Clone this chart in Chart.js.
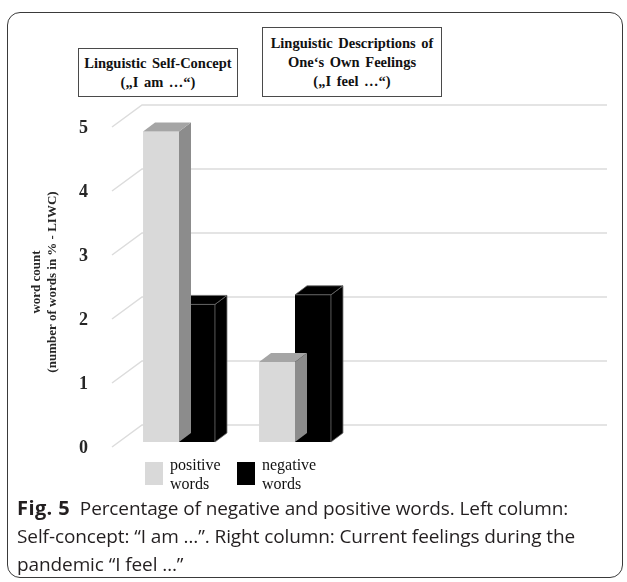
<!DOCTYPE html>
<html>
<head>
<meta charset="utf-8">
<script src="https://cdn.jsdelivr.net/npm/chart.js@4.4.1/dist/chart.umd.min.js"></script>
<style>
	body { margin: 0; background: #fff; }
	#wrap { position: relative; width: 627px; height: 582px; overflow: hidden; }
	#chart { position: absolute; left: 0; top: 0; }
	#card { position: absolute; left: 7px; top: 12px; width: 614px; height: 564px; border: 1.3px solid #3a3a3a; border-radius: 13px; pointer-events: none; }
	.box { position: absolute; box-sizing: border-box; border: 1.5px solid #4a4a4a; background: #fff; display: flex; flex-direction: column; justify-content: center;
		font: bold 14.5px "Liberation Serif", serif; line-height: 19px; text-align: center; color: #111; word-spacing: 2px; }
	#legend { position: absolute; left: 145px; top: 455px; display: flex; }
	.item { display: flex; width: 92px; font: 16px "Liberation Serif", serif; line-height: 19px; color: #111; }
	.sw { width: 18px; height: 23px; margin: 7px 7px 0 0; }
	#caption { position: absolute; left: 17px; top: 494px; font: 19px "Open Sans", sans-serif; line-height: 28px; color: #231f20; white-space: nowrap; letter-spacing: -0.1px; }
	#caption b { font-size: 20px; letter-spacing: 0.4px; }
</style>
</head>
<body>
<div id="wrap">
	<canvas id="chart" width="627" height="582"></canvas>
	<div id="card"></div>
	<div id="legend"></div>
	<div id="caption"><b>Fig. 5</b>&nbsp; Percentage of negative and positive words. Left column:<br>Self-concept: “I am …”. Right column: Current feelings during the<br>pandemic “I feel …”</div>
</div>
<script>
// values
const categories = ['Linguistic Self-Concept\n(„I am …“)', 'Linguistic Descriptions of\nOne‘s Own Feelings\n(„I feel …“)', '', ''];
const seriesLabels = ['positive\nwords', 'negative\nwords'];
const positiveWords = [4.85, 1.25, null, null];
const negativeWords = [2.15, 2.3, null, null];
const yTicks = [0, 1, 2, 3, 4, 5];
const yTitle = ['word count', '(number of words in % - LIWC)'];

// where the label boxes sit above the columns
var boxes = [
	{ left: 78, top: 48, width: 160, height: 49 },
	{ left: 262, top: 27, width: 180, height: 70 }
];

var depth = { dx: 12, dy: -9 };
var face = [
	{ top: '#a5a5a5', side: '#8c8c8c', line: null },
	{ top: '#000', side: '#000', line: '#6a6a6a' }
];

function poly(ctx, pts, fill, line) {
	ctx.beginPath();
	ctx.moveTo(pts[0][0], pts[0][1]);
	for (var i = 1; i < pts.length; i++) ctx.lineTo(pts[i][0], pts[i][1]);
	ctx.closePath();
	ctx.fillStyle = fill;
	ctx.fill();
	if (line) { ctx.strokeStyle = line; ctx.lineWidth = 0.8; ctx.stroke(); }
}

var threeD = {
	id: 'threeD',
	beforeDatasetsDraw: function(chart) {
		var ctx = chart.ctx, a = chart.chartArea, y = chart.scales.y;
		ctx.save();
		ctx.strokeStyle = '#dcdcdc';
		ctx.lineWidth = 1.5;
		y.ticks.forEach(function(t) {
			var py = y.getPixelForValue(t.value);
			ctx.beginPath();
			ctx.moveTo(a.left - 9, py + 5);
			ctx.lineTo(a.left + 21, py - 17);
			ctx.lineTo(a.right + 22, py - 17);
			ctx.stroke();
		});
		ctx.restore();
	},
	afterDatasetDraw: function(chart, args) {
		var ctx = chart.ctx, f = face[args.index];
		var values = chart.data.datasets[args.index].data;
		ctx.save();
		args.meta.data.forEach(function(el, i) {
			if (values[i] == null) return;
			var p = el.getProps(['x', 'y', 'base', 'width'], true);
			var l = p.x - p.width / 2, r = p.x + p.width / 2;
			var dx = depth.dx, dy = depth.dy;
			poly(ctx, [[r, p.y], [r + dx, p.y + dy], [r + dx, p.base + dy], [r, p.base]], f.side, f.line);
			poly(ctx, [[l, p.y], [l + dx, p.y + dy], [r + dx, p.y + dy], [r, p.y]], f.top, f.line);
		});
		ctx.restore();
	}
};

var chart = new Chart(document.getElementById('chart'), {
	type: 'bar',
	data: {
		labels: categories,
		datasets: [
			{ label: seriesLabels[0], data: positiveWords, backgroundColor: '#d9d9d9' },
			{ label: seriesLabels[1], data: negativeWords, backgroundColor: '#000' }
		]
	},
	options: {
		responsive: false,
		animation: false,
		categoryPercentage: 0.62,
		barPercentage: 1,
		layout: { padding: { left: 25, top: 122, right: 42, bottom: 140 } },
		plugins: { legend: { display: false }, tooltip: { enabled: false } },
		scales: {
			x: { display: false },
			y: {
				min: 0, max: 5,
				afterBuildTicks: function(s) { s.ticks = yTicks.map(function(v) { return { value: v }; }); },
				afterFit: function(s) { s.width = 96; },
				grid: { display: false, drawTicks: false },
				border: { display: false },
				ticks: { padding: 33, labelOffset: 6, color: '#262626', font: { family: 'Liberation Serif', size: 18, weight: 'bold' } },
				title: { display: true, text: yTitle, color: '#262626', padding: { top: 4 }, font: { family: 'Liberation Serif', size: 13, weight: 'bold' } }
			}
		}
	},
	plugins: [threeD]
});

// label boxes from the category names
categories.forEach(function(c, i) {
	if (!boxes[i]) return;
	var d = document.createElement('div');
	d.className = 'box';
	d.style.left = boxes[i].left + 'px';
	d.style.top = boxes[i].top + 'px';
	d.style.width = boxes[i].width + 'px';
	d.style.height = boxes[i].height + 'px';
	c.split('\n').forEach(function(line) {
		var s = document.createElement('div');
		s.textContent = line;
		d.appendChild(s);
	});
	document.getElementById('wrap').appendChild(d);
});

// legend from the datasets
chart.data.datasets.forEach(function(ds) {
	var it = document.createElement('div');
	it.className = 'item';
	var sw = document.createElement('div');
	sw.className = 'sw';
	sw.style.background = ds.backgroundColor;
	var tx = document.createElement('div');
	tx.innerHTML = ds.label.split('\n').join('<br>');
	it.appendChild(sw);
	it.appendChild(tx);
	document.getElementById('legend').appendChild(it);
});
</script>
</body>
</html>
